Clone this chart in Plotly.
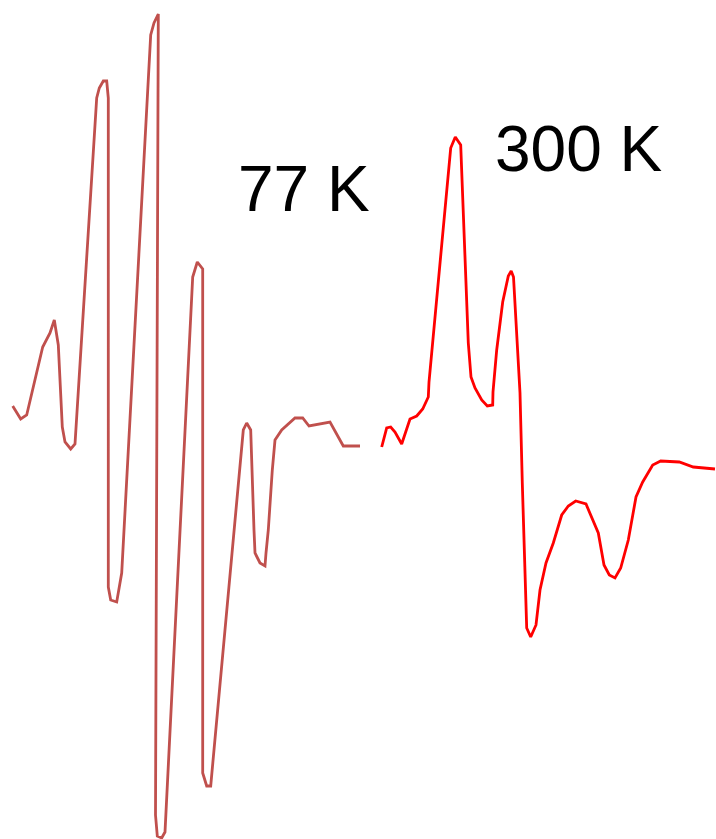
import plotly.graph_objects as go

# 77 K spectrum (field position, signal)
field_77 = [12.7, 20.7, 26.7, 42.7, 50, 54.3, 58.3, 62.3, 65, 70.7, 75, 96.7, 99.3, 103.3, 106.7,
            108.3, 108.3, 110.7, 116.7, 121.7, 150.7, 154, 158.3, 155.5, 157.3, 161.7, 165, 192.7,
            197.3, 202.7, 202.7, 206.7, 210.7, 242.7, 243.3, 246.7, 250.7, 254, 255, 260, 265, 266,
            268.3, 272.3, 275, 281.7, 295, 302.7, 309, 330, 336, 343.3, 360]
signal_77 = [406, 419, 415, 347, 333, 320, 345, 427, 442, 449, 444, 98, 88, 81, 81,
             98, 587, 600, 602, 573, 35, 23, 14, 815, 836, 838, 832, 277,
             262, 269, 773, 786, 786, 443, 430, 423, 430, 530, 553, 563, 566, 553,
             530, 470, 440, 430, 418, 418, 426, 422, 433, 446, 446]

# 300 K spectrum
field_300 = [381.7, 386.7, 390.7, 395, 401.7, 410, 416.7, 422.7, 428.3, 429, 450.7, 455.3, 460.7,
             468.3, 471, 475, 481.7, 487.3, 492.7, 493, 496.7, 502.7, 508.3, 511.2, 513.5, 520,
             522.3, 526.7, 530.7, 536, 540, 546, 553.3, 561.7, 568.3, 575.7, 586, 598.3, 604,
             609.3, 615, 620.7, 628.3, 636, 642.7, 652.7, 660.7, 679.3, 693.3, 715]
signal_300 = [447, 428, 427, 432, 444, 419, 416, 409, 397, 382, 148, 137, 145,
              343, 377, 388, 400, 406, 405, 392, 350, 302, 276, 271, 277, 393,
              483, 628, 637, 625, 590, 563, 543, 515, 506, 501, 504, 533, 565,
              575, 578, 568, 540, 497, 482, 465, 461, 462, 467, 469]

labels = ["77 K", "300 K"]
label_x = [304, 578]
label_y = [189, 149]

fig = go.Figure()
fig.add_trace(go.Scatter(x=field_77, y=signal_77, mode="lines",
                         line=dict(color="#c0504d", width=2.8), showlegend=False))
fig.add_trace(go.Scatter(x=field_300, y=signal_300, mode="lines",
                         line=dict(color="#ff0000", width=2.8), showlegend=False))

for t, x, y in zip(labels, label_x, label_y):
    fig.add_annotation(text=t, x=x, y=y, xref="x", yref="y", showarrow=False,
                       xanchor="center", yanchor="middle",
                       font=dict(family="Liberation Sans, Arial", size=64, color="black"))

fig.update_layout(
    width=716, height=839,
    margin=dict(l=0, r=0, t=0, b=0),
    paper_bgcolor="white", plot_bgcolor="white",
    xaxis=dict(range=[0, 716], visible=False, fixedrange=True),
    yaxis=dict(range=[839, 0], visible=False, fixedrange=True),
)

fig.write_html("out.html", config={"displayModeBar": False},
               post_script="document.body.style.margin='0';document.body.style.overflow='hidden';")
